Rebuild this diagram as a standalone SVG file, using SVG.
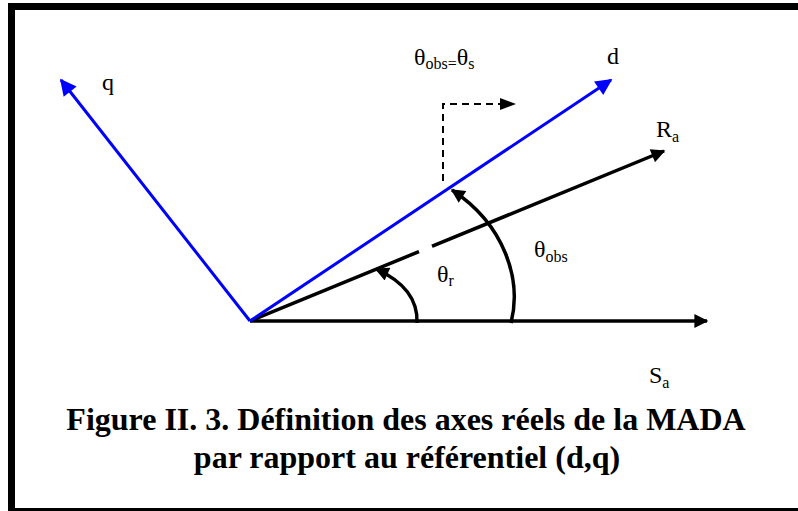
<svg xmlns="http://www.w3.org/2000/svg" width="798" height="511" viewBox="0 0 798 511">
<style>
.lbl{font-family:"Liberation Serif","Times New Roman",serif;font-size:24px;fill:#000}
.sub{font-size:16px}
.title{font-family:"Liberation Serif","Times New Roman",serif;font-size:32px;font-weight:bold;fill:#000;text-anchor:middle}
.blue{stroke:#0000ff;stroke-width:3;fill:none}
.blk{stroke:#000;stroke-width:3.5;fill:none}
</style>
<defs>
<marker id="ab" viewBox="0 0 10 10" refX="9" refY="5" markerWidth="6.5" markerHeight="5.5" markerUnits="strokeWidth" orient="auto"><path d="M0,0 L10,5 L0,10 z" fill="#0000ff"/></marker>
<marker id="ak" viewBox="0 0 10 10" refX="9" refY="5" markerWidth="5" markerHeight="4" markerUnits="strokeWidth" orient="auto"><path d="M0,0 L10,5 L0,10 z" fill="#000"/></marker>
</defs>
<rect x="0" y="0" width="798" height="511" fill="#fff"/>
<rect x="11.5" y="6.5" width="800" height="505" fill="none" stroke="#000" stroke-width="7"/>
<g id="connectors">
<line id="Sa-axis" x1="250" y1="321" x2="707" y2="321" class="blk" stroke-width="4" marker-end="url(#ak)"/>
<line id="Ra-axis" x1="250" y1="321" x2="664" y2="151" class="blk" marker-end="url(#ak)"/>
<line x1="419" y1="251.6" x2="432" y2="246.3" stroke="#fff" stroke-width="5"/>
<line id="d-axis" x1="250" y1="321" x2="611" y2="80" class="blue" marker-end="url(#ab)"/>
<line id="q-axis" x1="250" y1="321" x2="61" y2="80" class="blue" marker-end="url(#ab)"/>
<path id="theta-r-arc" d="M417,323 C418,300 405,282 376,269" class="blk" stroke-width="3" marker-end="url(#ak)"/>
<path id="theta-obs-arc" d="M511,323 C522,280 505,225 452,190" class="blk" stroke-width="3" marker-end="url(#ak)"/>
<path id="dashed" d="M443,181 L443,104 L503,104" fill="none" stroke="#000" stroke-width="2" stroke-dasharray="7,5"/>
<path d="M500,98 L516,104 L500,110 z" fill="#000"/>
</g>
<g id="label-q"><text class="lbl" x="102" y="90">q</text></g>
<g id="label-d"><text class="lbl" x="607" y="64">d</text></g>
<g id="label-theta-obs-s"><text class="lbl" x="414" y="65">θ<tspan class="sub" dy="4">obs=</tspan><tspan dy="-4">θ</tspan><tspan class="sub" dy="4">s</tspan></text></g>
<g id="label-Ra"><text class="lbl" x="656" y="137">R<tspan class="sub" dy="5">a</tspan></text></g>
<g id="label-theta-r"><text class="lbl" x="437" y="282">θ<tspan class="sub" dy="4">r</tspan></text></g>
<g id="label-theta-obs"><text class="lbl" x="534" y="257">θ<tspan class="sub" dy="5">obs</tspan></text></g>
<g id="label-Sa"><text class="lbl" x="649" y="383">S<tspan class="sub" dy="5">a</tspan></text></g>
<g id="caption">
<text class="title" x="406" y="430">Figure II. 3. Définition des axes réels de la MADA</text>
<text class="title" x="407" y="468">par rapport au référentiel (d,q)</text>
</g>
</svg>
